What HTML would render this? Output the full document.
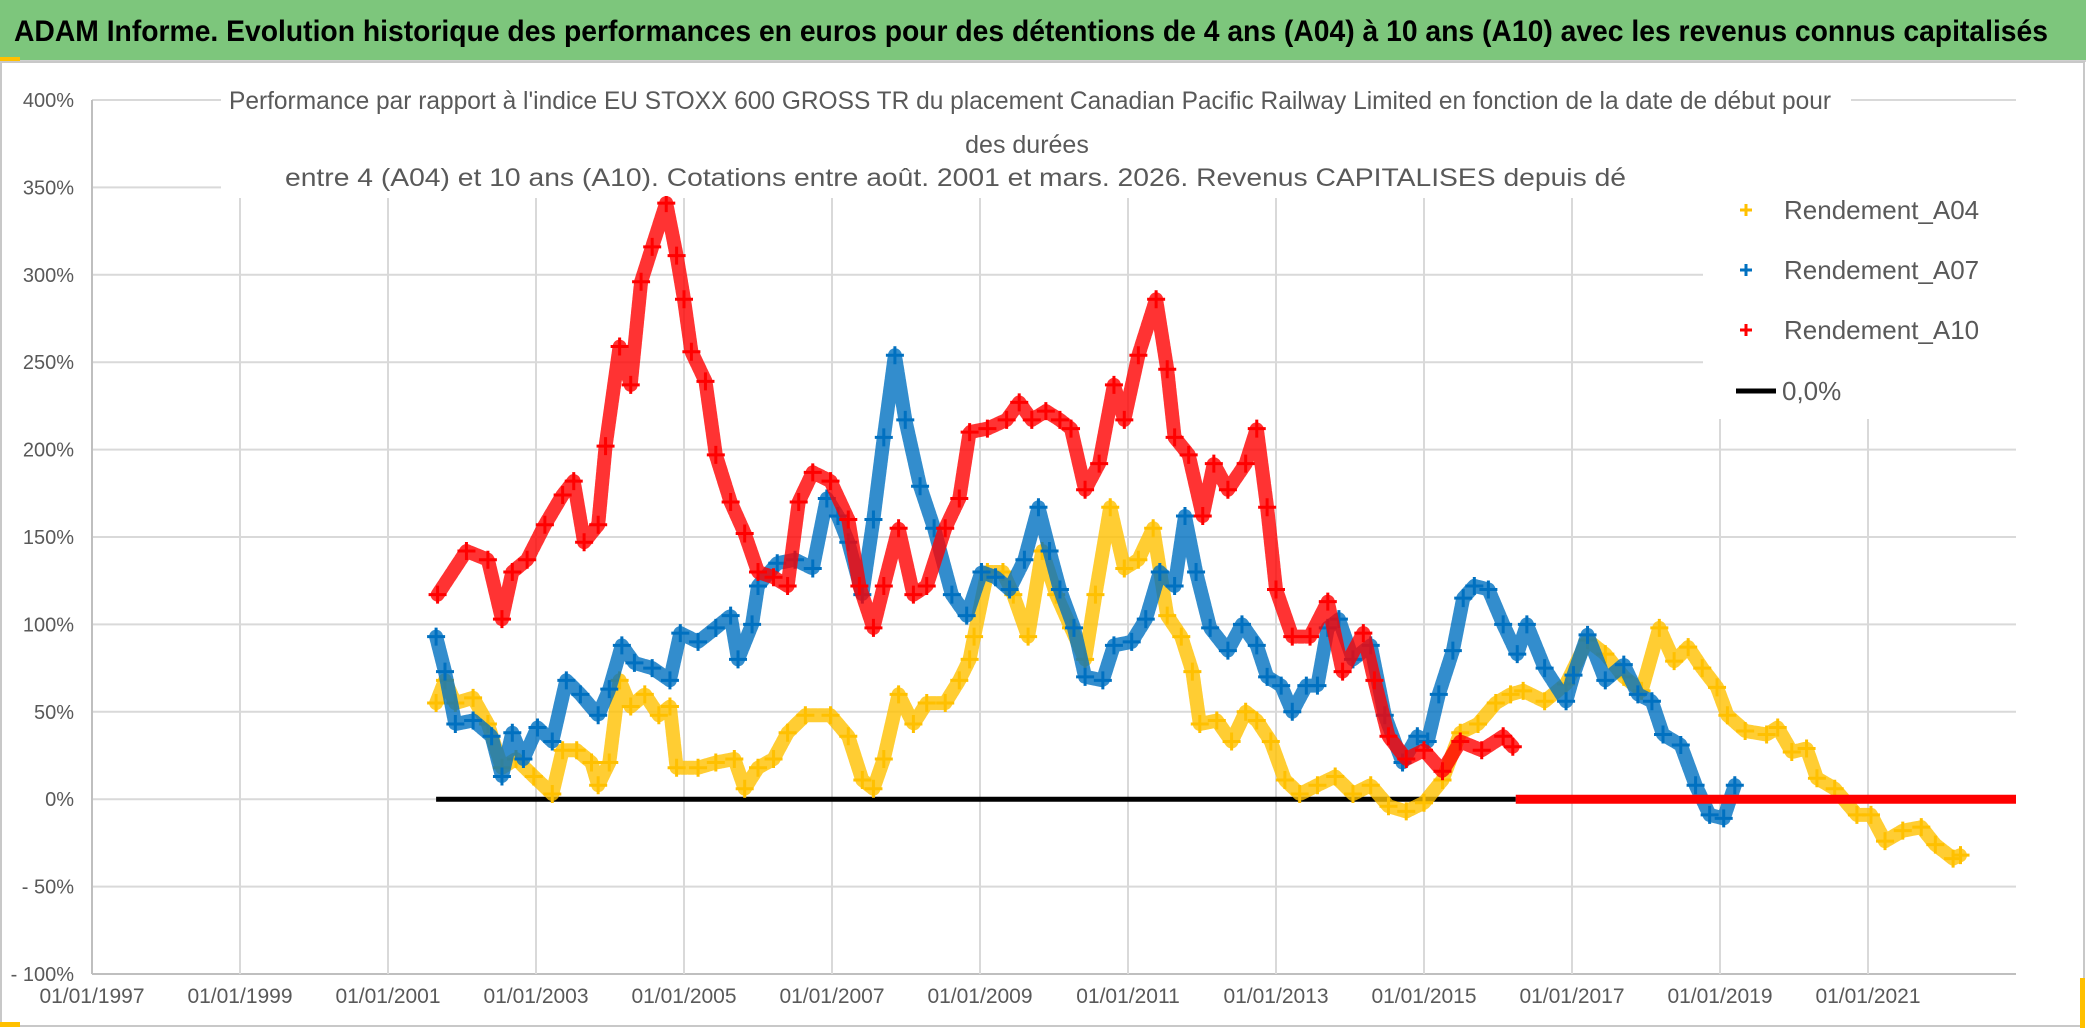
<!DOCTYPE html>
<html><head><meta charset="utf-8"><style>
html,body{margin:0;padding:0;background:#fff;}
svg{display:block;font-family:"Liberation Sans Narrow","Liberation Sans",sans-serif;}
</style></head><body>
<svg id="chart" width="2086" height="1031" viewBox="0 0 2086 1031" xmlns="http://www.w3.org/2000/svg">
<rect x="0" y="0" width="2086" height="1031" fill="#fff"/>
<rect x="0" y="0" width="2086" height="60" fill="#7dc67c"/>
<line x1="0" y1="61" x2="2086" y2="61" stroke="#d0d0d0" stroke-width="2"/>
<rect x="0" y="57" width="20" height="4" fill="#ffc000"/>
<text x="14" y="41" font-size="30" font-weight="bold" fill="#000" textLength="2034" lengthAdjust="spacingAndGlyphs">ADAM Informe. Evolution historique des performances en euros pour des détentions de 4 ans (A04) à 10 ans (A10) avec les revenus connus capitalisés</text>
<rect x="1" y="62" width="2083" height="964" fill="none" stroke="#c8c8c8" stroke-width="2"/>
<rect x="2080" y="978" width="5" height="50" fill="#ffc000"/>
<rect x="0" y="1022" width="20" height="5" fill="#ffc000"/>
<g id="grid"></g>
<g id="marks"></g>
<rect x="221" y="84" width="1630" height="112" fill="#fff"/>
<text x="229" y="109" font-size="25" fill="#595959" textLength="1602" lengthAdjust="spacingAndGlyphs">Performance par rapport à l'indice EU STOXX 600 GROSS TR  du placement Canadian Pacific Railway Limited en fonction de la date de début pour</text>
<text x="1027" y="153" font-size="25" fill="#595959" text-anchor="middle">des durées</text>
<text x="285" y="186" font-size="25" fill="#595959" textLength="1341" lengthAdjust="spacingAndGlyphs">entre 4 (A04) et 10 ans (A10). Cotations entre août. 2001 et mars. 2026. Revenus CAPITALISES depuis dé</text>
<g id="legend">
<rect x="1703" y="186" width="313" height="233" fill="#fff"/>
</g>
<g id="axes"></g>
</svg>
<script>
const NS="http://www.w3.org/2000/svg";
// ---- data ----
const yTicks=[400,350,300,250,200,150,100,50,0,-50,-100];
const yTickLabels=["400%","350%","300%","250%","200%","150%","100%","50%","0%","- 50%","- 100%"];
const xTickYears=[1997,1999,2001,2003,2005,2007,2009,2011,2013,2015,2017,2019,2021];
const xTickLabels=["01/01/1997","01/01/1999","01/01/2001","01/01/2003","01/01/2005","01/01/2007","01/01/2009","01/01/2011","01/01/2013","01/01/2015","01/01/2017","01/01/2019","01/01/2021"];
const legendLabels=["Rendement_A04","Rendement_A07","Rendement_A10","0,0%"];
const a04Dates=[2001.65,2001.77,2001.91,2002.15,2002.35,2002.54,2002.73,2002.97,2003.22,2003.36,2003.55,2003.75,2003.84,2003.99,2004.13,2004.28,2004.47,2004.66,2004.81,2004.9,2005.19,2005.43,2005.68,2005.82,2006.0,2006.21,2006.4,2006.64,2006.98,2007.22,2007.41,2007.56,2007.7,2007.9,2008.1,2008.28,2008.53,2008.72,2008.86,2008.92,2009.1,2009.31,2009.45,2009.65,2009.84,2010.03,2010.23,2010.42,2010.56,2010.76,2010.95,2011.14,2011.34,2011.53,2011.72,2011.87,2011.97,2012.2,2012.4,2012.59,2012.74,2012.93,2013.12,2013.32,2013.56,2013.8,2014.04,2014.28,2014.52,2014.76,2015.0,2015.25,2015.49,2015.73,2015.97,2016.17,2016.34,2016.63,2016.92,2017.21,2017.45,2017.7,2017.94,2018.18,2018.38,2018.57,2018.76,2018.96,2019.1,2019.34,2019.63,2019.78,2019.97,2020.17,2020.31,2020.55,2020.85,2021.04,2021.23,2021.47,2021.72,2021.91,2022.15,2022.25];
const a04Values=[55,68,55,58,43,18,23,13,3,28,28,21,8,21,68,53,60,48,53,18,18,21,23,6,18,23,38,48,48,36,11,6,23,60,43,55,55,68,80,93,130,130,117,93,142,117,98,80,117,167,132,137,155,105,93,73,43,45,33,50,45,33,11,3,8,13,3,8,-4,-7,-2,11,38,43,55,60,62,56,66,91,83,70,62,98,79,87,75,64,48,39,37,41,27,29,12,6,-9,-9,-24,-18,-16,-26,-34,-32];
const a07Dates=[2001.65,2001.77,2001.91,2002.15,2002.4,2002.54,2002.68,2002.83,2003.02,2003.22,2003.41,2003.6,2003.84,2003.99,2004.16,2004.33,2004.57,2004.81,2004.95,2005.19,2005.43,2005.63,2005.73,2005.92,2006.0,2006.26,2006.5,2006.74,2006.93,2007.08,2007.22,2007.41,2007.56,2007.7,2007.85,2007.99,2008.19,2008.38,2008.62,2008.82,2009.02,2009.21,2009.4,2009.6,2009.79,2009.94,2010.08,2010.27,2010.42,2010.66,2010.81,2011.05,2011.24,2011.43,2011.63,2011.77,2011.92,2012.11,2012.35,2012.54,2012.74,2012.88,2013.07,2013.22,2013.41,2013.56,2013.7,2013.85,2014.04,2014.28,2014.47,2014.71,2014.91,2015.05,2015.2,2015.39,2015.53,2015.68,2015.87,2016.07,2016.26,2016.39,2016.63,2016.92,2017.02,2017.21,2017.45,2017.7,2017.89,2018.08,2018.23,2018.47,2018.67,2018.86,2019.05,2019.2];
const a07Values=[93,73,43,45,36,13,38,23,41,33,68,60,48,63,88,78,75,68,95,90,98,105,80,100,122,135,137,132,172,162,147,117,160,207,254,217,179,155,117,105,130,127,120,137,167,142,120,98,70,68,88,90,103,130,122,162,130,98,85,100,88,70,65,50,65,65,98,103,80,88,48,21,36,33,60,85,115,122,120,100,83,100,75,56,71,94,68,77,60,56,37,31,8,-9,-11,8];
const a10Dates=[2001.67,2002.06,2002.35,2002.54,2002.68,2002.88,2003.12,2003.36,2003.51,2003.65,2003.84,2003.94,2004.13,2004.28,2004.42,2004.57,2004.76,2004.9,2005.0,2005.1,2005.29,2005.43,2005.63,2005.82,2006.0,2006.21,2006.4,2006.55,2006.74,2006.98,2007.22,2007.37,2007.56,2007.7,2007.9,2008.1,2008.28,2008.53,2008.72,2008.86,2009.1,2009.36,2009.53,2009.7,2009.89,2010.08,2010.23,2010.42,2010.61,2010.81,2010.95,2011.14,2011.38,2011.53,2011.63,2011.82,2012.01,2012.16,2012.35,2012.59,2012.74,2012.88,2013.0,2013.22,2013.46,2013.7,2013.9,2014.18,2014.33,2014.52,2014.76,2015.0,2015.25,2015.49,2015.78,2016.07,2016.2];
const a10Values=[117,142,137,103,130,137,157,174,182,147,157,202,259,237,296,316,341,311,286,256,239,197,170,152,130,127,122,170,187,182,160,122,98,122,155,117,122,155,172,210,212,217,227,217,222,217,212,177,192,237,217,254,286,246,207,197,162,192,177,192,212,167,120,93,93,113,73,95,68,36,23,28,16,33,28,36,30];
const a10ZeroDates=[2016.24,2023.0];
const a10ZeroValues=[0,0];
const zeroLineDates=[2001.65,2016.24];
const zeroLineValues=[0,0];
// ---- axes functions ----
const X0=92,X1=2016,Y0=974,Y1=100;
function xs(yr){return X0+(yr-1997)/(2023-1997)*(X1-X0);}
function ys(v){return Y0-(v+100)/500*(Y0-Y1);}
function mk(tag,attrs,parent){const e=document.createElementNS(NS,tag);for(const k in attrs)e.setAttribute(k,attrs[k]);parent.appendChild(e);return e;}
const grid=document.getElementById('grid'),marks=document.getElementById('marks'),axes=document.getElementById('axes'),legend=document.getElementById('legend');
yTicks.forEach((v,i)=>{
  const l=mk('line',{x1:X0,x2:X1,y1:ys(v),y2:ys(v),stroke:i===yTicks.length-1?'#bfbfbf':'#d9d9d9','stroke-width':2},grid);
  
  
  const t=mk('text',{x:74,y:ys(v)+7,'font-size':20,fill:'#595959','text-anchor':'end'},axes);
  t.textContent=yTickLabels[i];
  
  
});
xTickYears.forEach((yr,i)=>{
  if(i>0){const l=mk('line',{x1:xs(yr),x2:xs(yr),y1:198,y2:Y0,stroke:'#d9d9d9','stroke-width':2},grid);
  
  }
  const t=mk('text',{x:xs(yr),y:1003,'font-size':21,fill:'#595959','text-anchor':'middle'},axes);
  t.textContent=xTickLabels[i];
  
  
});
const ax=mk('line',{x1:X0,x2:X0,y1:Y1,y2:Y0,stroke:'#bfbfbf','stroke-width':2},grid);


function plus(x,y,c,s,parent){return mk('path',{d:`M${x-s} ${y}H${x+s}M${x} ${y-s}V${y+s}`,stroke:c,'stroke-width':3,fill:'none'},parent);}
function drawSeries(dates,vals,color,name){
  const g=mk('g',{},marks);
  
  
  const pts=dates.map((d,i)=>xs(d).toFixed(1)+','+ys(vals[i]).toFixed(1)).join(' ');
  mk('polyline',{points:pts,fill:'none',stroke:color,'stroke-width':14,'stroke-linejoin':'round','stroke-linecap':'round',opacity:0.8,'stroke-dasharray':'5 2'},g);
  dates.forEach((d,i)=>{
    const p=plus(xs(d),ys(vals[i]),color,9,g);
    
    
  });
}
const zl=mk('line',{x1:xs(zeroLineDates[0]),x2:xs(zeroLineDates[1]),y1:ys(zeroLineValues[0]),y2:ys(zeroLineValues[1]),stroke:'#000','stroke-width':5},marks);


drawSeries(a04Dates,a04Values,'#ffc000','series-a04');
drawSeries(a07Dates,a07Values,'#0070c0','series-a07');
drawSeries(a10Dates,a10Values,'#ff0000','series-a10');
const rz=mk('line',{x1:xs(a10ZeroDates[0]),x2:xs(a10ZeroDates[1]),y1:ys(a10ZeroValues[0]),y2:ys(a10ZeroValues[1]),stroke:'#ff0000','stroke-width':9},marks);


const legColors=['#ffc000','#0070c0','#ff0000','#000'];
const legY=[210,270,330,391];
legendLabels.forEach((lab,i)=>{
  if(i<3){const p=plus(1746,legY[i],legColors[i],6,legend);
    
    }
  else{const l=mk('line',{x1:1736,x2:1776,y1:legY[i],y2:legY[i],stroke:'#000','stroke-width':5},legend);
    
    }
  const t=mk('text',{x:i<3?1784:1782,y:legY[i]+9,'font-size':26,fill:'#595959'},legend);
  t.textContent=lab;
  
  
});
</script>
</body></html>
